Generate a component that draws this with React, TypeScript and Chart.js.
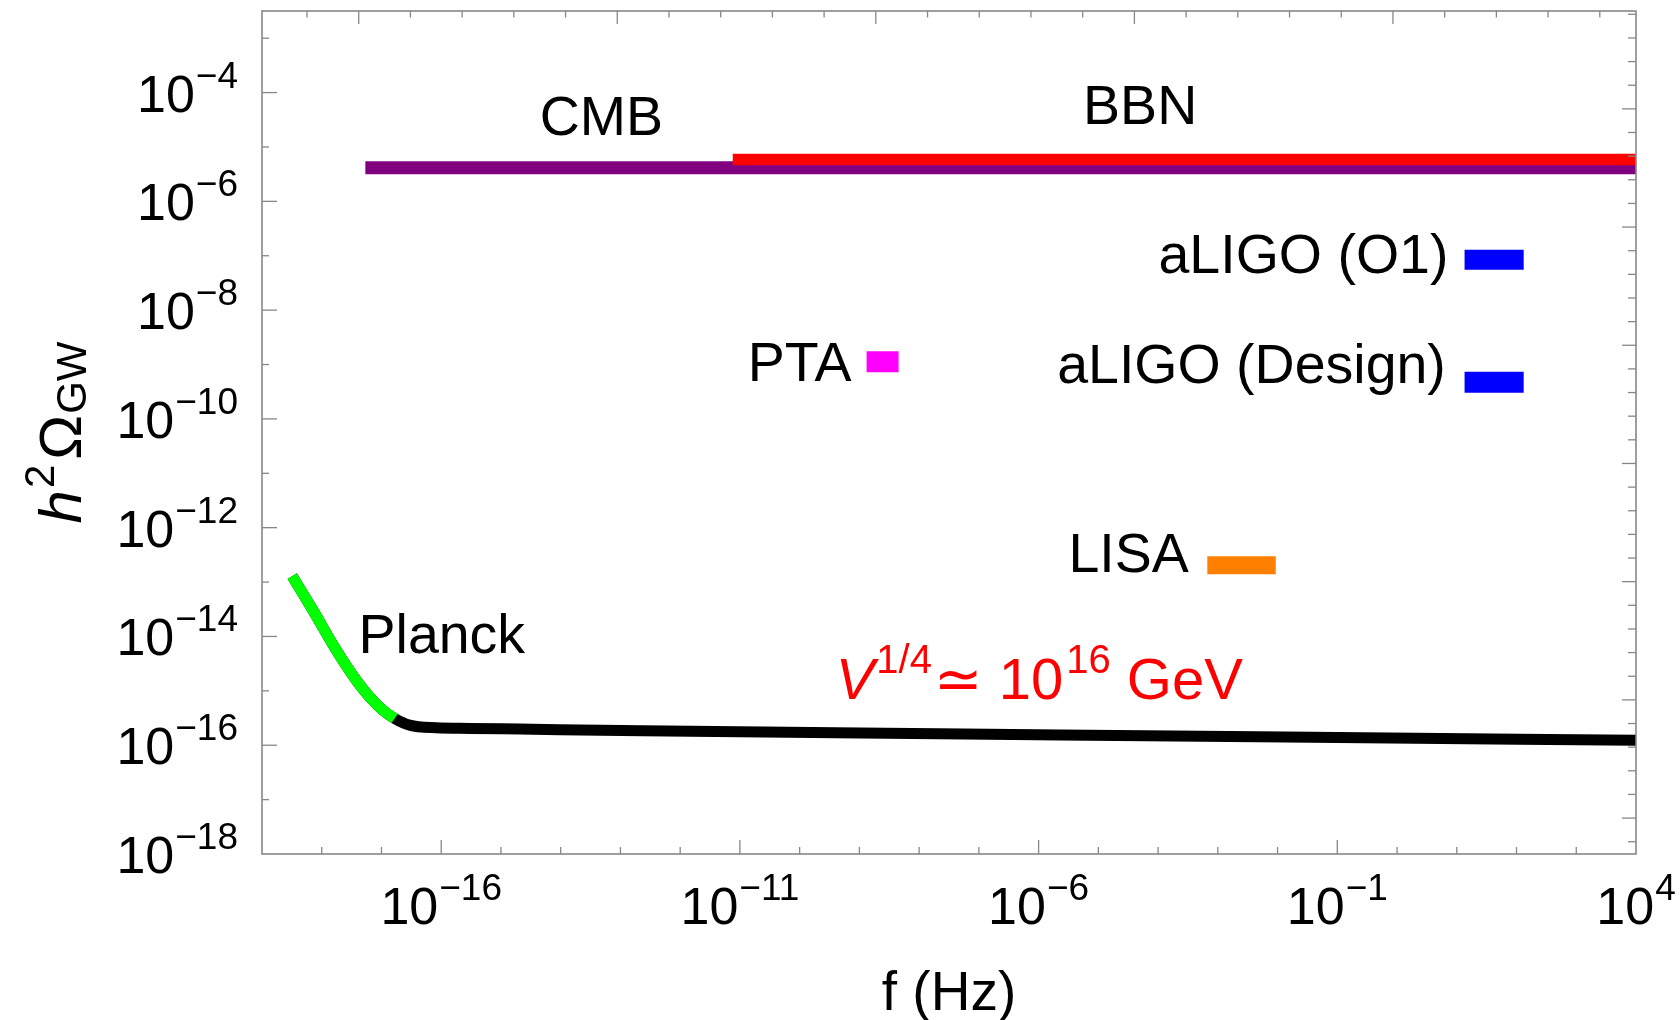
import React, { useEffect, useRef } from "react";
import { Chart, registerables } from "chart.js";

Chart.register(...registerables);

// ---------------- data ----------------
const spectrumFreq = [3.21e-19, 7.1e-19, 1.75e-18, 3.78e-18, 6.31e-18, 1.05e-17, 1.66e-17, 2.95e-17, 8.26e-17, 2.99e-16, 2.05e-15, 2.34e-13, 5.64e-8, 1.35e-2, 1e4];
const spectrumOmega = [1.28e-13, 3.04e-14, 5.6e-15, 1.57e-15, 7.76e-16, 4.43e-16, 3.11e-16, 2.34e-16, 2.09e-16, 2.04e-16, 1.98e-16, 1.84e-16, 1.61e-16, 1.41e-16, 1.23e-16];

const planckFreq = [3.21e-19, 7.1e-19, 1.75e-18, 3.78e-18, 6.31e-18, 1.05e-17, 1.66e-17];
const planckOmega = [1.28e-13, 3.04e-14, 5.6e-15, 1.57e-15, 7.76e-16, 4.43e-16, 3.11e-16];

const cmbFreq = [5.37e-18, 1e4];
const cmbOmega = [4.17e-6, 4.17e-6];
const bbnFreq = [7.59e-12, 1e4];
const bbnOmega = [5.89e-6, 5.89e-6];
const ptaFreq = [1.32e-9, 4.53e-9];
const ptaOmega = [1.12e-9, 1.12e-9];
const lisaFreq = [6.67e-4, 9.33e-3];
const lisaOmega = [2.04e-13, 2.04e-13];
const aligoO1Freq = [13.5, 131.8];
const aligoO1Omega = [8.4e-8, 8.4e-8];
const aligoDesignFreq = [13.5, 131.8];
const aligoDesignOmega = [4.71e-10, 4.71e-10];

// axis ranges and tick labels
const xRange = [1e-19, 1e4];
const yRange = [1e-18, Math.pow(10, -2.5)];
const xTickExponents = [-16, -11, -6, -1, 4];
const yTickExponents = [-18, -16, -14, -12, -10, -8, -6, -4];
const topTickRange = [-1.87, 24.7];
const rightTickRange = [-1.52, 34.14];

// text annotations anchored in data coordinates
const annotations = [
  { text: "CMB", f: 4.79e-14, omega: 1.63e-5, align: "center" },
  { text: "BBN", f: 5.01e-5, omega: 2.59e-5, align: "center" },
  { text: "aLIGO (O1)", f: 7.24, omega: 4.72e-8, align: "right" },
  { text: "aLIGO (Design)", f: 6.56, omega: 4.52e-10, align: "right" },
  { text: "PTA", f: 7.41e-10, omega: 4.91e-10, align: "right" },
  { text: "LISA", f: 3.27e-4, omega: 1.55e-13, align: "right" },
  { text: "Planck", f: 4.13e-18, omega: 4.93e-15, align: "left" },
];
const potentialLabelAnchor = { f: 4.01e-10, omega: 7.05e-16 };

// ---------------- drawing helpers ----------------
const FONT = "'Liberation Sans', Arial, 'DejaVu Sans', sans-serif";
const FRAME_COLOR = "#878787";

type Part = { t: string; size: number; dy?: number; italic?: boolean; gap?: number };

function fontOf(p: Part) {
  return `${p.italic ? "italic " : ""}${p.size}px ${FONT}`;
}

function drawRich(ctx: CanvasRenderingContext2D, parts: Part[], x: number, y: number, align: string, color: string) {
  const widths = parts.map((p) => {
    ctx.font = fontOf(p);
    return ctx.measureText(p.t).width + (p.gap || 0);
  });
  const total = widths.reduce((a, b) => a + b, 0);
  let cx = align === "left" ? x : align === "center" ? x - total / 2 : x - total;
  ctx.fillStyle = color;
  ctx.textAlign = "left";
  ctx.textBaseline = "alphabetic";
  parts.forEach((p, i) => {
    ctx.font = fontOf(p);
    cx += p.gap || 0;
    ctx.fillText(p.t, cx, y + (p.dy || 0));
    cx += widths[i] - (p.gap || 0);
  });
}

function powerParts(exp: number): Part[] {
  const e = exp < 0 ? "\u2212" + Math.abs(exp) : String(exp);
  return [
    { t: "10", size: 52 },
    { t: e, size: 37, dy: -24, gap: 1 },
  ];
}

const framePlugin = {
  id: "frameTicks",
  afterDatasetsDraw(chart: any) {
    const { ctx, chartArea: a, scales } = chart;
    ctx.save();
    ctx.strokeStyle = FRAME_COLOR;
    // ticks
    ctx.lineWidth = 1.3;
    const xs = scales.x;
    const ys = scales.y;
    for (let e = -18; e <= 3; e++) {
      const px = xs.getPixelForValue(Math.pow(10, e));
      const len = xTickExponents.includes(e) ? 14 : 7;
      ctx.beginPath();
      ctx.moveTo(px, a.bottom);
      ctx.lineTo(px, a.bottom - len);
      ctx.stroke();
    }
    for (let e = -17; e <= -3; e++) {
      const py = ys.getPixelForValue(Math.pow(10, e));
      const len = yTickExponents.includes(e) ? 15 : 7;
      ctx.beginPath();
      ctx.moveTo(a.left, py);
      ctx.lineTo(a.left + len, py);
      ctx.stroke();
    }
    const xt = scales.xTop;
    for (let v = Math.ceil(topTickRange[0]); v <= Math.floor(topTickRange[1]); v++) {
      const px = xt.getPixelForValue(v);
      const len = v % 5 === 0 ? 13 : 6.5;
      ctx.beginPath();
      ctx.moveTo(px, a.top);
      ctx.lineTo(px, a.top + len);
      ctx.stroke();
    }
    const yr = scales.yRight;
    for (let v = Math.ceil(rightTickRange[0]); v <= Math.floor(rightTickRange[1]); v++) {
      const py = yr.getPixelForValue(v);
      const len = v % 5 === 0 ? 14 : 8;
      ctx.beginPath();
      ctx.moveTo(a.right, py);
      ctx.lineTo(a.right - len, py);
      ctx.stroke();
    }
    // frame
    ctx.lineWidth = 1.6;
    ctx.strokeRect(a.left, a.top, a.right - a.left, a.bottom - a.top);

    // annotations
    annotations.forEach((an) => {
      const px = xs.getPixelForValue(an.f);
      const py = ys.getPixelForValue(an.omega);
      drawRich(ctx, [{ t: an.text, size: 55.5 }], px, py, an.align, "#000");
    });
    const vx = xs.getPixelForValue(potentialLabelAnchor.f);
    const vy = ys.getPixelForValue(potentialLabelAnchor.omega);
    drawRich(
      ctx,
      [
        { t: "V", size: 58, italic: true },
        { t: "1/4", size: 40, dy: -26, gap: 2 },
        { t: "\u2243", size: 58, gap: 2 },
        { t: " 10", size: 58 },
        { t: "16", size: 40, dy: -26, gap: 3 },
        { t: " GeV", size: 58 },
      ],
      vx,
      vy,
      "left",
      "#ff0000"
    );
    ctx.restore();
  },
  afterDraw(chart: any) {
    const { ctx, chartArea: a, scales } = chart;
    ctx.save();
    xTickExponents.forEach((e) => {
      const px = scales.x.getPixelForValue(Math.pow(10, e));
      drawRich(ctx, powerParts(e), px, a.bottom + 70, "center", "#000");
    });
    yTickExponents.forEach((e) => {
      const py = scales.y.getPixelForValue(Math.pow(10, e));
      drawRich(ctx, powerParts(e), a.left - 24, py + 19, "right", "#000");
    });
    // x axis title
    drawRich(ctx, [{ t: "f (Hz)", size: 55 }], (a.left + a.right) / 2, 1010, "center", "#000");
    // y axis title (rotated)
    ctx.translate(81, (a.top + a.bottom) / 2);
    ctx.rotate(-Math.PI / 2);
    drawRich(
      ctx,
      [
        { t: "h", size: 60, italic: true },
        { t: "2", size: 42, dy: -27, gap: 2 },
        { t: "\u03a9", size: 60, gap: 5 },
        { t: "GW", size: 42, dy: 5, gap: 1 },
      ],
      0,
      0,
      "center",
      "#000"
    );
    ctx.restore();
  },
};

function pts(xs: number[], ys: number[]) {
  return xs.map((x, i) => ({ x, y: ys[i] }));
}

export default function App() {
  const ref = useRef<HTMLCanvasElement>(null);
  useEffect(() => {
    const canvas = ref.current;
    if (!canvas) return;
    const hidden = {
      ticks: { display: false },
      grid: { display: false },
      border: { display: false },
    };
    const chart = new Chart(canvas, {
      type: "line",
      data: {
        datasets: [
          { label: "CMB", data: pts(cmbFreq, cmbOmega), borderColor: "#800080", borderWidth: 13, order: 10 },
          { label: "BBN", data: pts(bbnFreq, bbnOmega), borderColor: "#ff0000", borderWidth: 11.5, order: 9 },
          { label: "spectrum", data: pts(spectrumFreq, spectrumOmega), borderColor: "#000000", borderWidth: 11, cubicInterpolationMode: "monotone", order: 8 },
          { label: "Planck", data: pts(planckFreq, planckOmega), borderColor: "#00ff00", borderWidth: 11, cubicInterpolationMode: "monotone", order: 7 },
          { label: "PTA", data: pts(ptaFreq, ptaOmega), borderColor: "#ff00ff", borderWidth: 21, order: 5 },
          { label: "LISA", data: pts(lisaFreq, lisaOmega), borderColor: "#ff8000", borderWidth: 18, order: 5 },
          { label: "aLIGO (O1)", data: pts(aligoO1Freq, aligoO1Omega), borderColor: "#0000ff", borderWidth: 20, order: 5 },
          { label: "aLIGO (Design)", data: pts(aligoDesignFreq, aligoDesignOmega), borderColor: "#0000ff", borderWidth: 21, order: 5 },
        ] as any,
      },
      options: {
        responsive: false,
        animation: false,
        layout: { padding: { left: 0, right: 44, top: 11, bottom: 0 } },
        plugins: { legend: { display: false }, tooltip: { enabled: false } },
        elements: { point: { radius: 0 }, line: { tension: 0, borderCapStyle: "butt", borderJoinStyle: "round" } },
        scales: {
          x: {
            type: "logarithmic",
            position: "bottom",
            min: xRange[0],
            max: xRange[1],
            ...hidden,
            afterFit: (s: any) => {
              s.height = 166;
            },
          },
          y: {
            type: "logarithmic",
            position: "left",
            min: yRange[0],
            max: yRange[1],
            ...hidden,
            afterFit: (s: any) => {
              s.width = 262;
            },
          },
          xTop: {
            type: "linear",
            position: "top",
            min: topTickRange[0],
            max: topTickRange[1],
            ...hidden,
            afterFit: (s: any) => {
              s.height = 0;
            },
          },
          yRight: {
            type: "linear",
            position: "right",
            min: rightTickRange[0],
            max: rightTickRange[1],
            ...hidden,
            afterFit: (s: any) => {
              s.width = 0;
            },
          },
        },
      } as any,
      plugins: [framePlugin as any],
    });
    return () => chart.destroy();
  }, []);
  return (
    <div style={{ position: "fixed", left: 0, top: 0, width: 1680, height: 1020, background: "#fff" }}>
      <canvas ref={ref} width={1680} height={1020} style={{ display: "block" }} />
    </div>
  );
}
